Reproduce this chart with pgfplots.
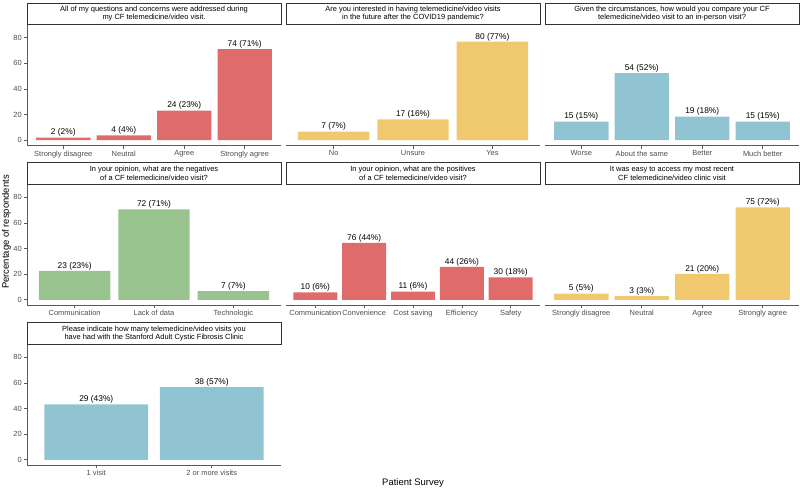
\documentclass[border=0pt]{standalone}
\usepackage{fontspec}
\setmainfont{Liberation Sans}
\usepackage{pgfplots}
\pgfplotsset{compat=1.18}
\definecolor{cred}{HTML}{E06B6B}
\definecolor{cyel}{HTML}{F0C96F}
\definecolor{cblu}{HTML}{91C4D3}
\definecolor{cgrn}{HTML}{98C38F}
\definecolor{tickgray}{HTML}{4D4D4D}
\definecolor{axgray}{HTML}{5A5A5A}
\definecolor{stripgray}{HTML}{333333}
\pgfplotsset{
  panel/.style={
    scale only axis, width=254bp, height=121.2bp,
    ymin=-4.3, ymax=90.4, xmin=0.4,
    enlargelimits=false,
    axis x line*=bottom, axis y line*=left,
    axis line style={draw=axgray, line width=0.6bp},
    xtick=data, ytick={0,20,40,60,80},
    tick align=outside, major tick length=3.2bp,
    tick style={draw=axgray, line width=0.6bp},
    ticklabel style={font=\fontsize{7.5}{9}\selectfont, text=tickgray},
    xticklabel style={inner sep=1.5bp},
    yticklabel style={inner sep=1.8bp},
    /pgf/number format/assume math mode=true,
    ybar, bar width=0.9, bar shift=0pt,
    nodes near coords, point meta=explicit symbolic,
    nodes near coords style={font=\fontsize{8.4}{10}\selectfont, anchor=south, inner sep=0.8bp, text=black},
    clip=false,
  },
  noy/.style={y axis line style={draw=none}, ytick=\empty},
}
\newcommand{\strip}[4]{% x, paneltop y, text
  \draw[stripgray, line width=0.7bp] (#1,#2) rectangle ({#1+254},{#2+21.5});
  \node[align=center, font=\fontsize{7.5}{8.5}\selectfont, inner sep=0pt] at ({#1+127},{#2+10.75}) {#3};
}
\begin{document}
\begin{tikzpicture}[x=1bp,y=1bp]
\path[use as bounding box] (0,0) rectangle (800,491);

% Row 1
\begin{axis}[panel, at={(27bp,345.3bp)}, anchor=south west, xmax=4.6,
  xticklabels={Strongly disagree, Neutral, Agree, Strongly agree}]
\addplot[fill=cred, draw=none] coordinates {(1,1.92) [2 (2\%)] (2,3.85) [4 (4\%)] (3,23.08) [24 (23\%)] (4,71.15) [74 (71\%)]};
\end{axis}
\begin{axis}[panel, noy, at={(286bp,345.3bp)}, anchor=south west, xmax=3.6,
  xticklabels={No, Unsure, Yes}]
\addplot[fill=cyel, draw=none] coordinates {(1,6.73) [7 (7\%)] (2,16.35) [17 (16\%)] (3,76.92) [80 (77\%)]};
\end{axis}
\begin{axis}[panel, noy, at={(545bp,345.3bp)}, anchor=south west, xmax=4.6,
  xticklabels={Worse, About the same, Better, Much better}]
\addplot[fill=cblu, draw=none] coordinates {(1,14.56) [15 (15\%)] (2,52.43) [54 (52\%)] (3,18.45) [19 (18\%)] (4,14.56) [15 (15\%)]};
\end{axis}

% Row 2
\begin{axis}[panel, at={(27bp,185.7bp)}, anchor=south west, xmax=3.6,
  xticklabels={Communication, Lack of data, Technologic}]
\addplot[fill=cgrn, draw=none] coordinates {(1,22.55) [23 (23\%)] (2,70.59) [72 (71\%)] (3,6.86) [7 (7\%)]};
\end{axis}
\begin{axis}[panel, noy, at={(286bp,185.7bp)}, anchor=south west, xmax=5.6,
  xticklabels={Communication, Convenience, Cost saving, Efficiency, Safety}]
\addplot[fill=cred, draw=none] coordinates {(1,5.85) [10 (6\%)] (2,44.44) [76 (44\%)] (3,6.43) [11 (6\%)] (4,25.73) [44 (26\%)] (5,17.54) [30 (18\%)]};
\end{axis}
\begin{axis}[panel, noy, at={(545bp,185.7bp)}, anchor=south west, xmax=4.6,
  xticklabels={Strongly disagree, Neutral, Agree, Strongly agree}]
\addplot[fill=cyel, draw=none] coordinates {(1,4.81) [5 (5\%)] (2,2.88) [3 (3\%)] (3,20.19) [21 (20\%)] (4,72.12) [75 (72\%)]};
\end{axis}

% Row 3
\begin{axis}[panel, at={(27bp,25.7bp)}, anchor=south west, xmax=2.6,
  xticklabels={1 visit, 2 or more visits}]
\addplot[fill=cblu, draw=none] coordinates {(1,43.28) [29 (43\%)] (2,56.72) [38 (57\%)]};
\end{axis}

% Strips
\strip{27}{466.5}{All of my questions and concerns were addressed during\\my CF telemedicine/video visit.}{}
\strip{286}{466.5}{Are you interested in having telemedicine/video visits\\in the future after the COVID19 pandemic?}{}
\strip{545}{466.5}{Given the circumstances, how would you compare your CF\\telemedicine/video visit to an in-person visit?}{}
\strip{27}{306.9}{In your opinion, what are the negatives\\of a CF telemedicine/video visit?}{}
\strip{286}{306.9}{In your opinion, what are the positives\\of a CF telemedicine/video visit?}{}
\strip{545}{306.9}{It was easy to access my most recent\\CF telemedicine/video clinic visit}{}
\strip{27}{146.9}{Please indicate how many telemedicine/video visits you\\have had with the Stanford Adult Cystic Fibrosis Clinic}{}

% Axis titles
\node[rotate=90, font=\fontsize{9.5}{11}\selectfont, inner sep=0pt] at (6.5,259) {Percentage of respondents};
\node[font=\fontsize{9.5}{11}\selectfont, inner sep=0pt] at (413,7.7) {Patient Survey};
\end{tikzpicture}
\end{document}
